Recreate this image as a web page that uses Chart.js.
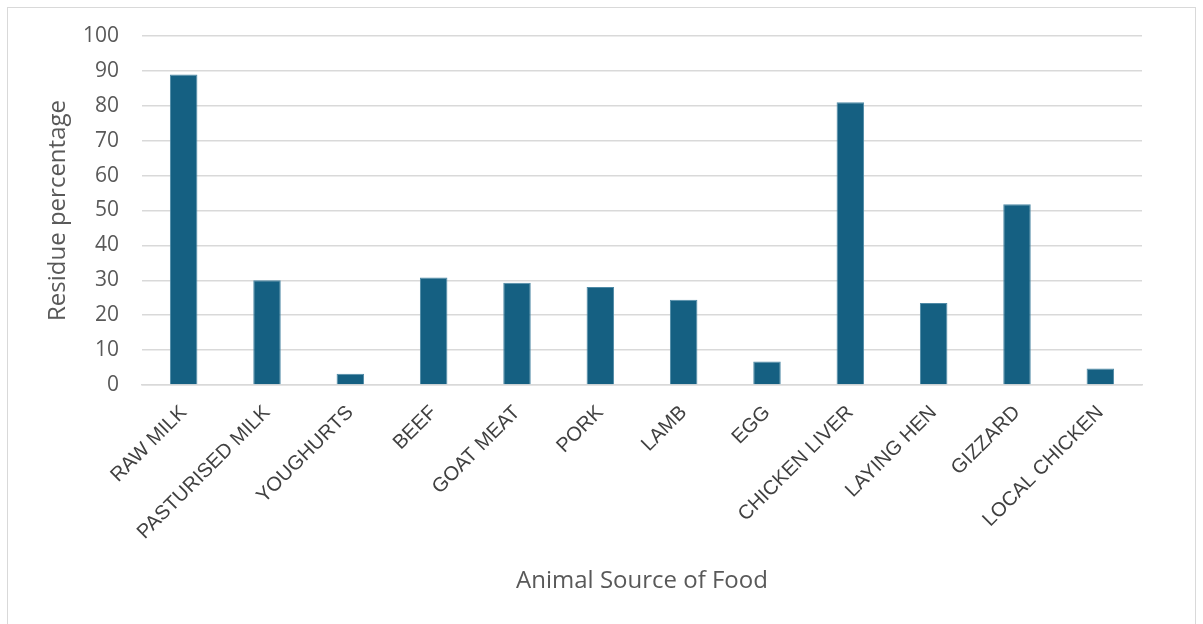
<!DOCTYPE html>
<html>
<head>
<meta charset="utf-8">
<script src="https://cdn.jsdelivr.net/npm/chart.js@4"></script>
<style>
  html, body { margin: 0; padding: 0; background: #fff; }
  #wrap { width: 1203px; height: 624px; position: relative; }
</style>
</head>
<body>
<div id="wrap"><canvas id="chartCanvas" width="1203" height="624"></canvas></div>
<script>
const foods = [
    "RAW MILK", "PASTURISED MILK", "YOUGHURTS", "BEEF", "GOAT MEAT", "PORK",
    "LAMB", "EGG", "CHICKEN LIVER", "LAYING HEN", "GIZZARD", "LOCAL CHICKEN"
];
const residuePct = [89, 30, 3.2, 30.8, 29.3, 28.1, 24.4, 6.7, 81, 23.5, 51.8, 4.7];
const yTicks = [0, 10, 20, 30, 40, 50, 60, 70, 80, 90, 100];

const GRID = "#d9d9d9";
const TEXT = "#595959";

// thin frame round the whole chart
const frame = {
    id: "frame",
    beforeDraw(c) {
        const ctx = c.ctx;
        ctx.save();
        ctx.fillStyle = "#fff";
        ctx.fillRect(0, 0, c.width, c.height);
        ctx.strokeStyle = GRID;
        ctx.lineWidth = 1;
        ctx.strokeRect(7.5, 7.5, 1188, 630);
        ctx.restore();
    }
};

let chart = new Chart(document.getElementById("chartCanvas"), {
    type: "bar",
    data: {
        labels: foods,
        datasets: [{
            label: "Residue percentage",
            data: residuePct,
            backgroundColor: "#156082",
            borderColor: "#4f8aa6",
            borderWidth: { top: 1, left: 1, right: 1, bottom: 0 },
            barPercentage: 0.33,
            categoryPercentage: 1
        }]
    },
    options: {
        responsive: false,
        animation: false,
        layout: { padding: { top: 36, right: 61, left: 44, bottom: 24 } },
        plugins: {
            legend: { display: false },
            tooltip: { enabled: false }
        },
        scales: {
            x: {
                grid: { display: false },
                border: { color: GRID, width: 1.5 },
                ticks: {
                    color: "#404040",
                    font: { family: "Liberation Sans", size: 20 },
                    maxRotation: 45,
                    minRotation: 45,
                    padding: 8,
                    autoSkip: false
                },
                title: {
                    display: true,
                    text: "Animal Source of Food",
                    color: TEXT,
                    font: { family: "Open Sans", size: 24 },
                    padding: { top: 0, bottom: 4 }
                },
                afterFit(scale) { scale.height = 624 - 24 - 385; }
            },
            y: {
                min: 0,
                max: 100,
                afterBuildTicks(scale) { scale.ticks = yTicks.map(v => ({ value: v })); },
                grid: { color: GRID, lineWidth: 1.5, drawTicks: false },
                border: { display: false },
                ticks: {
                    color: TEXT,
                    font: { family: "Open Sans", size: 21 },
                    padding: 23
                },
                title: {
                    display: true,
                    text: "Residue percentage",
                    color: TEXT,
                    font: { family: "Open Sans", size: 24 },
                    padding: { top: 0, bottom: 4 }
                },
                afterFit(scale) { scale.width = 142 - 44; }
            }
        }
    },
    plugins: [frame]
});
</script>
</body>
</html>
